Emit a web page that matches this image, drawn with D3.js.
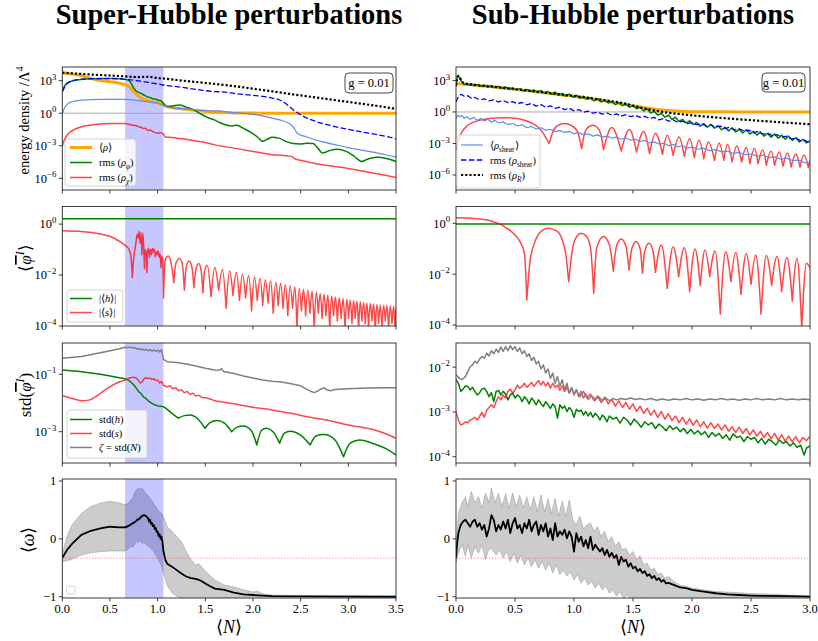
<!DOCTYPE html>
<html>
<head>
<meta charset="utf-8">
<script src="https://cdn.jsdelivr.net/npm/d3@7"></script>
<style>
  body { margin: 0; background: #fff; }
  svg { display: block; }
  text { font-family: "Liberation Serif", "Times New Roman", serif; fill: #000; }
</style>
</head>
<body>
<script>
// ---------------------------------------------------------------------------
// Data. Log-scale series are stored as [N, log10(value)] pairs,
// linear series as [N, value] pairs.
// ---------------------------------------------------------------------------

// x ticks
const ticksSuper = [0, 0.5, 1.0, 1.5, 2.0, 2.5, 3.0, 3.5];
const ticksSub = [0, 0.5, 1.0, 1.5, 2.0, 2.5, 3.0];
// tachyonic window (super-Hubble run)
const tachyonicWindow = [0.658, 1.06];
const couplingLabel = "g = 0.01";
const unitDensity = 1;
const wRadiation = -1 / 3;

// --- energy densities, super-Hubble ---
const rhoMeanSuper = [[0,3.74],[0.1,3.62],[0.2,3.46],[0.3,3.2],[0.4,3.02],[0.5,2.9],[0.6,2.76],[0.66,2.62],[0.7,2.45],[0.75,2.0],[0.8,1.55],[0.85,1.3],[0.9,1.16],[0.95,1.04],[1.0,0.97],[1.06,0.78],[1.1,0.62],[1.2,0.46],[1.3,0.36],[1.4,0.26],[1.5,0.17],[1.6,0.11],[1.7,0.06],[1.8,0.03],[2.0,0.01],[2.3,0],[3.5,0]];
const rmsPhiSuper = [[0,1.98],[0.03,2.6],[0.08,2.9],[0.15,3.06],[0.25,3.16],[0.4,3.2],[0.55,3.2],[0.66,3.12],[0.7,3.0],[0.72,2.8],[0.74,2.45],[0.77,2.1],[0.8,1.92],[0.82,1.85],[0.85,1.7],[0.87,1.62],[0.9,1.48],[0.92,1.45],[0.95,1.32],[0.98,1.3],[1.0,1.22],[1.02,1.18],[1.04,1.12],[1.06,0.92],[1.09,0.62],[1.15,0.66],[1.23,0.76],[1.3,0.56],[1.38,0.3],[1.45,-0.07],[1.52,-0.38],[1.6,-0.64],[1.65,-0.86],[1.72,-1.08],[1.78,-1.17],[1.83,-1.1],[1.9,-1.4],[1.97,-1.72],[2.05,-2.22],[2.1,-2.6],[2.15,-2.4],[2.2,-2.22],[2.28,-2.32],[2.35,-2.62],[2.42,-2.8],[2.49,-2.84],[2.56,-2.78],[2.63,-2.8],[2.68,-3.22],[2.73,-3.68],[2.8,-3.45],[2.89,-3.32],[2.97,-3.5],[3.04,-3.84],[3.1,-4.25],[3.14,-4.45],[3.2,-4.25],[3.3,-4.07],[3.4,-4.18],[3.5,-4.45]];
const rmsChiSuper = [[0,-3.03],[0.02,-2.5],[0.05,-2.02],[0.1,-1.62],[0.2,-1.25],[0.3,-1.09],[0.4,-1.0],[0.5,-0.96],[0.66,-0.94],[0.7,-1.02],[0.75,-1.12],[0.78,-1.15],[0.8,-1.25],[0.83,-1.3],[0.85,-1.42],[0.87,-1.38],[0.9,-1.6],[0.92,-1.55],[0.95,-1.7],[1.0,-1.85],[1.03,-1.8],[1.06,-1.92],[1.08,-2.2],[1.12,-2.22],[1.2,-2.3],[1.3,-2.4],[1.4,-2.56],[1.5,-2.7],[1.6,-2.92],[1.8,-3.22],[2.0,-3.52],[2.2,-3.82],[2.4,-3.98],[2.45,-4.25],[2.5,-4.33],[2.6,-4.55],[2.8,-4.85],[3.0,-5.1],[3.2,-5.42],[3.4,-5.75],[3.5,-5.92]];
const shearMeanSuper = [[0,0],[0.03,0.6],[0.06,0.9],[0.1,1.06],[0.2,1.2],[0.4,1.27],[0.66,1.27],[0.8,1.16],[0.9,1.05],[1.0,0.92],[1.06,0.72],[1.1,0.58],[1.2,0.46],[1.4,0.32],[1.6,0.2],[1.65,0.22],[1.7,0.14],[1.8,0.06],[2.0,-0.1],[2.1,-0.25],[2.2,-0.45],[2.28,-0.62],[2.38,-0.95],[2.42,-1.23],[2.47,-1.9],[2.55,-2.15],[2.7,-2.58],[2.9,-2.98],[3.0,-3.18],[3.2,-3.5],[3.4,-3.85],[3.5,-4.05]];
const shearRmsSuper = [[0,1.98],[0.03,2.5],[0.06,2.8],[0.1,2.97],[0.2,3.12],[0.3,3.18],[0.5,3.19],[0.66,3.12],[0.8,2.98],[0.9,2.85],[1.0,2.7],[1.06,2.6],[1.2,2.45],[1.4,2.2],[1.6,1.99],[1.68,1.97],[1.72,1.93],[1.8,1.83],[2.0,1.65],[2.1,1.55],[2.2,1.4],[2.28,1.22],[2.35,0.85],[2.42,0.32],[2.47,0.02],[2.55,-0.38],[2.65,-0.74],[2.8,-1.1],[3.0,-1.5],[3.2,-1.82],[3.4,-2.15],[3.5,-2.36]];
const rmsRadSuper = [[0,3.74],[0.2,3.62],[0.4,3.52],[0.6,3.43],[0.8,3.33],[0.9,3.36],[1.0,3.24],[1.06,3.2],[1.2,3.06],[1.4,2.88],[1.6,2.7],[1.8,2.5],[2.0,2.26],[2.2,2.02],[2.4,1.76],[2.6,1.52],[2.8,1.28],[3.0,1.04],[3.2,0.8],[3.4,0.54],[3.5,0.4]];

// --- energy densities, sub-Hubble ---
const rhoMeanSub = [[0,2.72],[0.1,2.63],[0.2,2.5],[0.3,2.41],[0.4,2.29],[0.5,2.16],[0.6,2.03],[0.7,1.9],[0.8,1.75],[0.9,1.62],[1.0,1.49],[1.1,1.33],[1.2,1.17],[1.3,0.98],[1.4,0.79],[1.5,0.6],[1.6,0.4],[1.7,0.24],[1.8,0.13],[1.9,0.06],[2.0,0.03],[2.2,0.01],[2.5,0],[3.0,0]];
const rmsPhiSub = [[0,2.4],[0.01,3.3],[0.02,3.5],[0.035,3.1],[0.05,2.85],[0.07,2.6],[0.09,2.72],[0.11,2.55],[0.13,2.68],[0.15,2.5],[0.18,2.6],[0.21,2.45],[0.24,2.55],[0.27,2.38],[0.3,2.5],[0.33,2.32],[0.36,2.42],[0.39,2.25],[0.42,2.38],[0.45,2.15],[0.48,2.3],[0.51,2.1],[0.54,2.22],[0.57,2.0],[0.6,2.15],[0.63,1.95],[0.66,2.1],[0.69,1.85],[0.72,2.05],[0.75,1.78],[0.78,1.95],[0.81,1.68],[0.84,1.9],[0.87,1.6],[0.9,1.75],[0.93,1.5],[0.96,1.7],[0.99,1.4],[1.02,1.6],[1.05,1.3],[1.08,1.5],[1.11,1.2],[1.14,1.38],[1.17,1.05],[1.2,1.25],[1.23,0.95],[1.26,1.12],[1.29,0.85],[1.32,1.0],[1.35,0.7],[1.38,0.88],[1.41,0.6],[1.44,0.75],[1.47,0.45],[1.5,0.6],[1.53,0.3],[1.56,0.45],[1.59,0.1],[1.62,0.28],[1.65,-0.1],[1.68,0.05],[1.71,-0.3],[1.74,-0.12],[1.77,-0.5],[1.8,-0.3],[1.83,-0.7],[1.86,-0.5],[1.89,-0.9],[1.92,-0.7],[1.95,-1.05],[1.98,-0.85],[2.01,-1.2],[2.04,-1.0],[2.07,-1.35],[2.1,-1.1],[2.13,-1.45],[2.16,-1.2],[2.19,-1.55],[2.22,-1.3],[2.25,-1.7],[2.28,-1.45],[2.31,-1.8],[2.34,-1.5],[2.37,-1.9],[2.4,-1.65],[2.43,-2.0],[2.46,-1.7],[2.49,-2.1],[2.52,-1.85],[2.55,-2.2],[2.58,-1.9],[2.61,-2.3],[2.64,-2.05],[2.67,-2.4],[2.7,-2.1],[2.73,-2.5],[2.76,-2.2],[2.79,-2.6],[2.82,-2.3],[2.85,-2.7],[2.88,-2.45],[2.91,-2.85],[2.94,-2.6],[2.97,-2.95],[3.0,-2.75]];
const rmsChiSub = [[0,-3.65],[0.02,-2.7],[0.05,-1.9],[0.1,-1.27],[0.2,-0.79],[0.3,-0.6],[0.4,-0.54],[0.5,-0.6],[0.6,-0.86],[0.66,-1.17],[0.72,-1.75],[0.79,-3.0],[0.82,-1.9],[0.86,-1.3],[0.92,-1.11],[0.98,-1.3],[1.03,-1.9],[1.065,-3.49],[1.09,-2.0],[1.12,-1.45],[1.16,-1.27],[1.2,-1.5],[1.23,-2.2],[1.25,-3.59],[1.32,-1.49],[1.4,-3.71],[1.47,-1.68],[1.53,-3.81],[1.59,-1.87],[1.64,-3.97],[1.69,-2.06],[1.75,-4.03],[1.79,-2.22],[1.84,-4.13],[1.89,-2.38],[1.935,-4.22],[1.98,-2.54],[2.02,-4.35],[2.06,-2.7],[2.1,-4.44],[2.14,-2.86],[2.19,-4.6],[2.23,-2.98],[2.27,-4.6],[2.3,-3.11],[2.34,-4.76],[2.38,-3.24],[2.42,-4.76],[2.46,-3.37],[2.49,-4.92],[2.53,-3.49],[2.56,-4.92],[2.6,-3.59],[2.63,-5.08],[2.67,-3.71],[2.7,-5.08],[2.74,-3.81],[2.77,-5.17],[2.81,-3.9],[2.84,-5.24],[2.88,-4.0],[2.915,-5.24],[2.95,-4.1],[2.986,-5.3],[3.0,-4.6]];
const shearMeanSub = [[0,-0.65],[0.015,-0.3],[0.03,-0.45],[0.05,-0.35],[0.07,-0.6],[0.09,-0.45],[0.12,-0.7],[0.15,-0.52],[0.18,-0.8],[0.21,-0.62],[0.24,-0.85],[0.27,-0.7],[0.3,-0.98],[0.33,-0.8],[0.36,-1.05],[0.4,-0.95],[0.44,-1.2],[0.48,-1.1],[0.52,-1.32],[0.56,-1.22],[0.6,-1.5],[0.64,-1.38],[0.68,-1.62],[0.72,-1.5],[0.76,-1.75],[0.8,-1.65],[0.84,-1.88],[0.88,-1.78],[0.92,-1.95],[0.96,-1.85],[1.0,-2.08],[1.04,-1.95],[1.08,-2.18],[1.12,-2.08],[1.16,-2.3],[1.2,-2.18],[1.24,-2.4],[1.28,-2.3],[1.32,-2.5],[1.36,-2.4],[1.4,-2.6],[1.44,-2.48],[1.48,-2.7],[1.52,-2.6],[1.56,-2.8],[1.6,-2.72],[1.64,-2.95],[1.68,-2.85],[1.72,-3.05],[1.76,-2.98],[1.8,-3.2],[1.84,-3.1],[1.88,-3.32],[1.92,-3.22],[1.96,-3.45],[2.0,-3.35],[2.05,-3.55],[2.1,-3.45],[2.15,-3.68],[2.2,-3.58],[2.25,-3.8],[2.3,-3.72],[2.35,-3.95],[2.4,-3.85],[2.45,-4.08],[2.5,-4.0],[2.55,-4.2],[2.6,-4.12],[2.65,-4.35],[2.7,-4.28],[2.75,-4.5],[2.8,-4.4],[2.85,-4.62],[2.9,-4.58],[2.95,-4.8],[3.0,-4.85]];
const shearRmsSub = [[0,0.95],[0.02,1.45],[0.045,1.68],[0.07,1.5],[0.1,1.55],[0.13,1.3],[0.16,1.38],[0.2,1.15],[0.24,1.25],[0.28,1.05],[0.32,1.15],[0.36,0.95],[0.4,1.08],[0.44,0.88],[0.48,0.98],[0.52,0.78],[0.56,0.9],[0.6,0.68],[0.64,0.8],[0.68,0.56],[0.72,0.7],[0.76,0.45],[0.8,0.58],[0.84,0.35],[0.88,0.45],[0.92,0.22],[0.96,0.35],[1.0,0.1],[1.04,0.22],[1.08,-0.02],[1.12,0.08],[1.16,-0.12],[1.2,-0.02],[1.24,-0.2],[1.28,-0.1],[1.32,-0.3],[1.36,-0.18],[1.4,-0.4],[1.44,-0.25],[1.48,-0.45],[1.52,-0.32],[1.56,-0.52],[1.6,-0.42],[1.64,-0.62],[1.68,-0.52],[1.72,-0.75],[1.76,-0.62],[1.8,-0.88],[1.84,-0.75],[1.88,-1.0],[1.92,-0.88],[1.96,-1.12],[2.0,-1.02],[2.04,-1.22],[2.08,-1.12],[2.12,-1.35],[2.16,-1.22],[2.2,-1.45],[2.24,-1.35],[2.28,-1.58],[2.32,-1.45],[2.36,-1.7],[2.4,-1.6],[2.44,-1.82],[2.48,-1.72],[2.52,-1.98],[2.56,-1.85],[2.6,-2.12],[2.64,-2.0],[2.68,-2.25],[2.72,-2.15],[2.76,-2.42],[2.8,-2.3],[2.84,-2.58],[2.88,-2.48],[2.92,-2.75],[2.96,-2.7],[3.0,-3.0]];
const rmsRadSub = [[0,2.5],[0.015,3.4],[0.03,3.3],[0.05,2.9],[0.08,2.7],[0.12,2.62],[0.2,2.52],[0.3,2.42],[0.4,2.3],[0.5,2.17],[0.6,2.05],[0.7,1.92],[0.8,1.78],[0.9,1.65],[1.0,1.52],[1.1,1.38],[1.2,1.22],[1.3,1.05],[1.4,0.88],[1.5,0.6],[1.6,0.32],[1.7,0.1],[1.8,-0.08],[1.9,-0.2],[2.0,-0.32],[2.2,-0.52],[2.4,-0.7],[2.6,-0.86],[2.8,-1.02],[3.0,-1.17]];

// --- field means ---
const hMeanSuper = [[0,0.21],[3.5,0.21]];
const sMeanSuper = [[0,-0.26],[0.2,-0.29],[0.4,-0.39],[0.5,-0.48],[0.6,-0.68],[0.64,-0.78],[0.68,-0.9],[0.7,-1.0],[0.72,-1.26],[0.735,-2.1],[0.75,-1.3],[0.77,-0.81],[0.785,-0.4],[0.795,-0.55],[0.805,-0.28],[0.815,-0.75],[0.825,-0.32],[0.835,-1.2],[0.845,-0.35],[0.855,-1.0],[0.862,-1.75],[0.87,-1.0],[0.88,-1.15],[0.888,-1.9],[0.895,-1.1],[0.905,-0.95],[0.915,-1.3],[0.925,-1.0],[0.935,-1.2],[0.945,-0.95],[0.955,-1.1],[0.965,-0.98],[0.975,-1.28],[0.985,-1.1],[0.995,-1.2],[1.005,-1.05],[1.015,-1.3],[1.025,-1.15],[1.035,-1.7],[1.045,-1.25],[1.055,-1.5],[1.062,-2.9],[1.075,-1.5],[1.09,-1.3],[1.11,-1.25],[1.14,-1.5],[1.17,-2.3],[1.19,-1.55],[1.23,-1.35],[1.26,-1.6],[1.28,-2.6],[1.3,-1.7],[1.33,-1.45],[1.36,-1.7],[1.38,-2.5],[1.4,-1.8],[1.43,-1.55],[1.455,-1.8],[1.475,-2.7],[1.49,-1.9],[1.52,-1.62],[1.56,-2.85],[1.6,-1.7],[1.64,-2.6],[1.68,-1.78],[1.718,-3.3],[1.755,-1.84],[1.79,-2.8],[1.825,-1.9],[1.858,-3.0],[1.89,-1.96],[1.922,-2.9],[1.955,-2.02],[1.985,-3.4],[2.015,-2.08],[2.045,-3.0],[2.075,-2.13],[2.102,-3.2],[2.13,-2.18],[2.158,-3.1],[2.185,-2.23],[2.212,-3.5],[2.24,-2.28],[2.265,-3.2],[2.29,-2.33],[2.315,-3.3],[2.34,-2.38],[2.365,-3.6],[2.39,-2.42],[2.415,-3.3],[2.44,-2.47],[2.462,-4.1],[2.485,-2.52],[2.508,-3.4],[2.53,-2.56],[2.552,-3.6],[2.575,-2.6],[2.598,-3.5],[2.62,-2.64],[2.642,-4.1],[2.665,-2.68],[2.685,-3.5],[2.705,-2.72],[2.725,-3.7],[2.745,-2.75],[2.765,-3.6],[2.785,-2.79],[2.805,-4.1],[2.825,-2.82],[2.845,-3.6],[2.865,-2.86],[2.885,-3.8],[2.905,-2.89],[2.925,-3.7],[2.945,-2.92],[2.965,-4.1],[2.985,-2.95],[3.002,-3.7],[3.02,-2.98],[3.038,-3.9],[3.055,-3.0],[3.072,-3.7],[3.09,-3.03],[3.108,-4.1],[3.125,-3.05],[3.142,-3.8],[3.16,-3.08],[3.178,-3.9],[3.195,-3.1],[3.212,-4.1],[3.23,-3.12],[3.248,-3.8],[3.265,-3.14],[3.282,-4.1],[3.3,-3.16],[3.318,-3.9],[3.335,-3.18],[3.352,-4.1],[3.37,-3.19],[3.388,-3.8],[3.405,-3.2],[3.422,-4.1],[3.44,-3.21],[3.458,-3.9],[3.475,-3.22],[3.49,-4.1],[3.5,-3.3]];
const hMeanSub = [[0,-0.03],[3.0,-0.03]];
const sMeanSub = [[0,0.22],[0.1,0.21],[0.2,0.17],[0.3,0.09],[0.35,0.0],[0.4,-0.1],[0.45,-0.26],[0.5,-0.46],[0.55,-0.79],[0.58,-1.18],[0.6,-3.02],[0.627,-1.5],[0.67,-0.72],[0.726,-0.3],[0.78,-0.2],[0.853,-0.3],[0.895,-0.59],[0.932,-1.25],[0.955,-2.3],[0.98,-1.25],[1.007,-0.66],[1.06,-0.39],[1.107,-0.52],[1.14,-0.98],[1.167,-2.76],[1.192,-0.98],[1.25,-0.52],[1.3,-0.85],[1.333,-1.88],[1.36,-0.9],[1.4,-0.62],[1.44,-0.9],[1.466,-1.84],[1.49,-1.0],[1.525,-0.72],[1.56,-1.0],[1.58,-1.97],[1.6,-1.1],[1.635,-0.79],[1.67,-1.1],[1.69,-1.93],[1.74,-0.85],[1.79,-2.56],[1.84,-0.92],[1.887,-2.1],[1.935,-0.96],[1.98,-2.69],[2.025,-1.01],[2.07,-2.45],[2.11,-1.05],[2.15,-2.1],[2.195,-1.09],[2.24,-3.58],[2.285,-1.12],[2.33,-2.3],[2.37,-1.15],[2.415,-2.8],[2.46,-1.19],[2.5,-2.4],[2.54,-1.25],[2.585,-3.58],[2.63,-1.27],[2.675,-2.45],[2.72,-1.31],[2.76,-2.69],[2.805,-1.35],[2.85,-3.06],[2.89,-1.38],[2.93,-4.13],[2.97,-1.57],[3.0,-1.75]];

// --- field standard deviations ---
const stdHSuper = [[0,-0.85],[0.2,-0.91],[0.4,-1.0],[0.6,-1.12],[0.66,-1.16],[0.7,-1.22],[0.75,-1.37],[0.78,-1.5],[0.8,-1.6],[0.82,-1.65],[0.85,-1.78],[0.88,-1.85],[0.9,-1.92],[0.95,-2.03],[1.0,-2.1],[1.06,-2.13],[1.1,-2.22],[1.15,-2.36],[1.217,-2.53],[1.28,-2.44],[1.34,-2.42],[1.42,-2.55],[1.497,-2.88],[1.55,-2.68],[1.62,-2.61],[1.7,-2.7],[1.776,-3.0],[1.83,-2.85],[1.9,-2.8],[1.98,-2.95],[2.04,-3.46],[2.09,-2.95],[2.14,-2.88],[2.21,-3.0],[2.28,-3.4],[2.33,-3.05],[2.39,-2.98],[2.5,-3.12],[2.6,-3.46],[2.66,-3.15],[2.74,-3.1],[2.85,-3.25],[2.95,-3.87],[3.02,-3.4],[3.12,-3.29],[3.25,-3.4],[3.4,-3.6],[3.5,-3.81]];
const stdSSuper = [[0,-1.75],[0.1,-1.84],[0.2,-1.92],[0.28,-1.9],[0.35,-1.78],[0.4,-1.66],[0.5,-1.43],[0.6,-1.26],[0.66,-1.2],[0.7,-1.14],[0.74,-1.1],[0.77,-1.12],[0.8,-1.22],[0.82,-1.3],[0.84,-1.25],[0.86,-1.15],[0.88,-1.12],[0.9,-1.15],[0.92,-1.13],[0.94,-1.18],[0.96,-1.15],[0.98,-1.22],[1.0,-1.2],[1.02,-1.3],[1.04,-1.25],[1.06,-1.38],[1.1,-1.43],[1.13,-1.4],[1.16,-1.5],[1.19,-1.47],[1.22,-1.57],[1.25,-1.54],[1.28,-1.64],[1.31,-1.6],[1.34,-1.7],[1.37,-1.66],[1.4,-1.76],[1.43,-1.73],[1.46,-1.8],[1.5,-1.82],[1.55,-1.86],[1.6,-1.92],[1.7,-1.97],[1.8,-2.03],[2.0,-2.15],[2.2,-2.24],[2.4,-2.36],[2.6,-2.5],[2.8,-2.61],[3.0,-2.77],[3.2,-2.88],[3.4,-3.08],[3.5,-3.23]];
const zetaSuper = [[0,-0.44],[0.2,-0.38],[0.4,-0.25],[0.5,-0.18],[0.6,-0.11],[0.66,-0.06],[0.7,-0.07],[0.72,-0.05],[0.74,-0.09],[0.76,-0.07],[0.78,-0.12],[0.8,-0.1],[0.82,-0.15],[0.84,-0.12],[0.86,-0.17],[0.88,-0.13],[0.9,-0.18],[0.92,-0.14],[0.94,-0.19],[0.96,-0.15],[0.98,-0.2],[1.0,-0.16],[1.02,-0.22],[1.04,-0.15],[1.05,-0.3],[1.06,-0.48],[1.1,-0.56],[1.2,-0.59],[1.3,-0.64],[1.4,-0.71],[1.5,-0.79],[1.6,-0.85],[1.65,-0.86],[1.67,-0.8],[1.69,-0.9],[1.8,-0.97],[1.9,-1.06],[2.0,-1.13],[2.1,-1.2],[2.2,-1.24],[2.3,-1.27],[2.4,-1.33],[2.5,-1.4],[2.55,-1.5],[2.6,-1.58],[2.64,-1.64],[2.68,-1.58],[2.72,-1.5],[2.75,-1.48],[2.78,-1.55],[2.82,-1.57],[2.86,-1.53],[2.9,-1.52],[3.0,-1.5],[3.2,-1.48],[3.4,-1.47],[3.5,-1.47]];

const stdHSub = [[0,-2.28],[0.02,-2.36],[0.04,-2.54],[0.06,-2.49],[0.08,-2.42],[0.1,-2.43],[0.12,-2.51],[0.14,-2.45],[0.16,-2.54],[0.18,-2.62],[0.2,-2.57],[0.22,-2.49],[0.24,-2.47],[0.26,-2.54],[0.28,-2.66],[0.3,-2.57],[0.32,-2.77],[0.34,-2.54],[0.36,-2.52],[0.38,-2.62],[0.4,-2.54],[0.42,-2.6],[0.44,-2.73],[0.46,-2.62],[0.48,-2.58],[0.5,-2.69],[0.52,-2.62],[0.54,-2.66],[0.56,-2.77],[0.58,-2.66],[0.6,-2.72],[0.62,-2.82],[0.64,-2.69],[0.66,-2.75],[0.68,-2.84],[0.7,-2.73],[0.72,-2.81],[0.74,-2.88],[0.76,-2.77],[0.78,-2.84],[0.8,-2.92],[0.82,-2.82],[0.84,-2.88],[0.86,-3.14],[0.88,-2.84],[0.9,-2.92],[0.92,-2.87],[0.94,-2.99],[0.96,-2.9],[0.98,-2.96],[1.0,-3.12],[1.02,-2.94],[1.04,-2.99],[1.06,-2.96],[1.08,-3.07],[1.1,-2.99],[1.12,-3.09],[1.14,-3.01],[1.16,-3.12],[1.18,-3.03],[1.2,-3.09],[1.22,-3.18],[1.24,-3.07],[1.26,-3.12],[1.28,-3.22],[1.3,-3.09],[1.33,-3.16],[1.36,-3.12],[1.39,-3.25],[1.42,-3.12],[1.45,-3.18],[1.48,-3.29],[1.51,-3.16],[1.54,-3.24],[1.57,-3.34],[1.6,-3.22],[1.63,-3.29],[1.66,-3.24],[1.69,-3.37],[1.72,-3.27],[1.75,-3.33],[1.78,-3.42],[1.81,-3.31],[1.84,-3.39],[1.87,-3.34],[1.9,-3.44],[1.93,-3.37],[1.96,-3.48],[1.99,-3.39],[2.02,-3.49],[2.05,-3.42],[2.08,-3.51],[2.11,-3.44],[2.14,-3.57],[2.17,-3.46],[2.2,-3.54],[2.23,-3.48],[2.26,-3.59],[2.29,-3.51],[2.32,-3.63],[2.35,-3.49],[2.38,-3.57],[2.41,-3.54],[2.44,-3.66],[2.47,-3.55],[2.5,-3.61],[2.53,-3.57],[2.56,-3.69],[2.59,-3.59],[2.62,-3.72],[2.65,-3.61],[2.68,-3.66],[2.71,-3.74],[2.74,-3.63],[2.77,-3.7],[2.8,-3.66],[2.83,-3.76],[2.86,-3.69],[2.89,-3.79],[2.92,-3.74],[2.95,-3.96],[2.97,-3.81],[3.0,-3.76]];
const stdSSub = [[0,-2.99],[0.02,-3.18],[0.04,-3.29],[0.06,-3.27],[0.08,-3.22],[0.1,-3.24],[0.12,-3.18],[0.14,-3.16],[0.16,-3.12],[0.18,-3.18],[0.2,-3.1],[0.22,-3.01],[0.24,-3.12],[0.26,-2.96],[0.28,-2.9],[0.3,-2.84],[0.32,-2.9],[0.34,-2.77],[0.36,-2.66],[0.38,-2.73],[0.4,-2.62],[0.42,-2.69],[0.44,-2.54],[0.46,-2.49],[0.48,-2.58],[0.5,-2.51],[0.52,-2.4],[0.54,-2.47],[0.56,-2.43],[0.58,-2.36],[0.6,-2.45],[0.62,-2.4],[0.64,-2.34],[0.66,-2.43],[0.68,-2.36],[0.7,-2.3],[0.72,-2.4],[0.74,-2.32],[0.76,-2.42],[0.78,-2.34],[0.8,-2.47],[0.82,-2.36],[0.84,-2.45],[0.86,-2.4],[0.88,-2.52],[0.9,-2.42],[0.92,-2.54],[0.94,-2.45],[0.96,-2.58],[0.98,-2.47],[1.0,-2.6],[1.02,-2.51],[1.05,-2.66],[1.08,-2.54],[1.11,-2.69],[1.14,-2.6],[1.17,-2.75],[1.2,-2.64],[1.23,-2.79],[1.26,-2.67],[1.29,-2.82],[1.32,-2.72],[1.35,-2.87],[1.38,-2.75],[1.41,-2.9],[1.44,-2.79],[1.47,-2.94],[1.5,-2.82],[1.53,-2.99],[1.56,-2.87],[1.59,-3.03],[1.62,-2.92],[1.65,-3.07],[1.68,-2.96],[1.71,-3.12],[1.74,-2.99],[1.77,-3.16],[1.8,-3.04],[1.83,-3.19],[1.86,-3.09],[1.89,-3.24],[1.92,-3.12],[1.95,-3.27],[1.98,-3.15],[2.01,-3.3],[2.04,-3.18],[2.07,-3.33],[2.1,-3.22],[2.13,-3.36],[2.16,-3.24],[2.19,-3.37],[2.22,-3.27],[2.25,-3.4],[2.28,-3.29],[2.31,-3.43],[2.34,-3.33],[2.37,-3.46],[2.4,-3.34],[2.43,-3.48],[2.46,-3.37],[2.49,-3.51],[2.52,-3.4],[2.55,-3.54],[2.58,-3.43],[2.61,-3.57],[2.64,-3.46],[2.67,-3.6],[2.7,-3.48],[2.73,-3.63],[2.76,-3.51],[2.79,-3.65],[2.82,-3.54],[2.85,-3.67],[2.88,-3.55],[2.91,-3.69],[2.94,-3.57],[2.97,-3.64],[3.0,-3.54]];
const zetaSub = [[0,-2.17],[0.03,-2.25],[0.05,-2.28],[0.08,-2.21],[0.1,-2.1],[0.12,-1.99],[0.14,-1.95],[0.16,-1.87],[0.18,-1.91],[0.2,-1.82],[0.22,-1.76],[0.24,-1.8],[0.26,-1.69],[0.28,-1.75],[0.3,-1.63],[0.32,-1.7],[0.34,-1.6],[0.36,-1.67],[0.38,-1.55],[0.4,-1.65],[0.42,-1.54],[0.44,-1.63],[0.46,-1.52],[0.48,-1.61],[0.5,-1.54],[0.52,-1.65],[0.54,-1.57],[0.56,-1.7],[0.58,-1.63],[0.6,-1.76],[0.62,-1.7],[0.64,-1.85],[0.66,-1.78],[0.68,-1.93],[0.7,-1.87],[0.72,-2.04],[0.74,-1.95],[0.76,-2.13],[0.78,-2.04],[0.8,-2.25],[0.82,-2.13],[0.84,-2.36],[0.86,-2.21],[0.88,-2.43],[0.9,-2.28],[0.92,-2.51],[0.94,-2.36],[0.96,-2.57],[0.98,-2.45],[1.0,-2.62],[1.02,-2.5],[1.04,-2.66],[1.06,-2.54],[1.08,-2.69],[1.1,-2.6],[1.12,-2.72],[1.15,-2.64],[1.18,-2.73],[1.21,-2.66],[1.24,-2.75],[1.27,-2.69],[1.3,-2.75],[1.33,-2.7],[1.36,-2.73],[1.4,-2.7],[1.44,-2.72],[1.48,-2.69],[1.52,-2.72],[1.56,-2.7],[1.6,-2.73],[1.65,-2.7],[1.7,-2.74],[1.75,-2.71],[1.8,-2.74],[1.85,-2.71],[1.9,-2.73],[1.95,-2.7],[2.0,-2.73],[2.05,-2.71],[2.1,-2.74],[2.15,-2.71],[2.2,-2.73],[2.25,-2.7],[2.3,-2.73],[2.35,-2.71],[2.4,-2.74],[2.45,-2.71],[2.5,-2.73],[2.55,-2.7],[2.6,-2.73],[2.65,-2.71],[2.7,-2.73],[2.75,-2.7],[2.8,-2.73],[2.85,-2.71],[2.9,-2.73],[2.95,-2.71],[3.0,-2.73]];

// --- equation of state: mean and one-sigma band ---
const wMeanSuper = [[0,-0.33],[0.05,-0.19],[0.1,-0.09],[0.15,-0.01],[0.2,0.07],[0.3,0.14],[0.4,0.18],[0.5,0.21],[0.6,0.2],[0.66,0.2],[0.7,0.23],[0.74,0.27],[0.77,0.3],[0.79,0.34],[0.8,0.33],[0.82,0.37],[0.84,0.4],[0.86,0.41],[0.88,0.39],[0.9,0.36],[0.91,0.3],[0.92,0.33],[0.93,0.26],[0.94,0.28],[0.95,0.22],[0.96,0.24],[0.97,0.17],[0.98,0.19],[0.99,0.12],[1.0,0.13],[1.01,0.05],[1.02,0.08],[1.03,0.0],[1.04,0.04],[1.05,-0.05],[1.06,-0.2],[1.08,-0.36],[1.1,-0.43],[1.15,-0.48],[1.2,-0.54],[1.25,-0.6],[1.3,-0.65],[1.35,-0.68],[1.4,-0.69],[1.45,-0.72],[1.5,-0.77],[1.55,-0.82],[1.6,-0.86],[1.7,-0.88],[1.8,-0.93],[1.9,-0.96],[2.0,-0.97],[2.2,-0.99],[2.5,-0.995],[3.5,-1.0]];
const wUpperSuper = [[0,-0.25],[0.05,0.04],[0.1,0.24],[0.2,0.44],[0.3,0.56],[0.4,0.62],[0.5,0.65],[0.6,0.62],[0.66,0.59],[0.7,0.62],[0.72,0.68],[0.74,0.7],[0.76,0.8],[0.78,0.85],[0.8,0.88],[0.82,0.86],[0.84,0.87],[0.86,0.82],[0.88,0.78],[0.9,0.74],[0.92,0.7],[0.94,0.66],[0.96,0.6],[0.98,0.55],[1.0,0.5],[1.02,0.46],[1.04,0.44],[1.06,0.39],[1.08,0.3],[1.1,0.21],[1.15,0.13],[1.2,0.04],[1.25,-0.05],[1.3,-0.22],[1.35,-0.36],[1.4,-0.45],[1.43,-0.43],[1.45,-0.46],[1.5,-0.56],[1.6,-0.71],[1.7,-0.8],[1.8,-0.83],[1.9,-0.88],[2.0,-0.92],[2.05,-0.9],[2.1,-0.95],[2.2,-0.97],[2.5,-0.985],[3.5,-0.99]];
const wLowerSuper = [[0,-0.39],[0.05,-0.38],[0.1,-0.35],[0.2,-0.28],[0.3,-0.24],[0.4,-0.22],[0.5,-0.21],[0.66,-0.21],[0.7,-0.16],[0.72,-0.12],[0.74,-0.15],[0.76,-0.08],[0.78,-0.05],[0.8,-0.06],[0.82,-0.02],[0.84,-0.08],[0.86,-0.05],[0.88,-0.1],[0.9,-0.12],[0.92,-0.15],[0.94,-0.18],[0.96,-0.22],[0.98,-0.28],[1.0,-0.33],[1.02,-0.4],[1.04,-0.45],[1.06,-0.59],[1.1,-0.8],[1.15,-0.93],[1.2,-0.99],[1.25,-1.02],[1.3,-1.04],[1.6,-1.04],[1.7,-1.02],[1.8,-1.01],[2.0,-1.005],[3.5,-1.005]];
const wMeanSub = [[0,-0.33],[0.01,-0.07],[0.02,0.1],[0.04,0.24],[0.06,0.3],[0.08,0.33],[0.1,0.27],[0.12,0.21],[0.14,0.3],[0.16,0.33],[0.18,0.21],[0.2,0.27],[0.22,0.16],[0.24,0.24],[0.26,0.04],[0.28,0.18],[0.3,0.41],[0.32,0.33],[0.34,0.13],[0.36,0.24],[0.38,0.16],[0.4,0.3],[0.42,0.18],[0.44,0.33],[0.46,0.1],[0.48,0.27],[0.5,0.36],[0.52,0.18],[0.54,0.24],[0.56,0.1],[0.58,0.27],[0.6,0.18],[0.62,0.33],[0.64,0.13],[0.66,0.24],[0.68,0.3],[0.7,0.07],[0.72,0.24],[0.74,0.13],[0.76,0.27],[0.78,0.04],[0.8,0.18],[0.82,-0.02],[0.84,0.27],[0.86,0.04],[0.88,0.13],[0.9,0.07],[0.92,0.16],[0.94,0.01],[0.96,0.13],[0.98,0.04],[1.0,-0.22],[1.02,0.1],[1.04,-0.05],[1.06,0.04],[1.08,-0.13],[1.1,-0.02],[1.12,-0.16],[1.14,0.04],[1.16,-0.19],[1.18,-0.1],[1.2,-0.16],[1.22,-0.22],[1.24,-0.16],[1.26,-0.28],[1.28,-0.19],[1.3,-0.31],[1.32,-0.24],[1.34,-0.33],[1.36,-0.28],[1.38,-0.45],[1.4,-0.31],[1.42,-0.39],[1.44,-0.36],[1.46,-0.48],[1.48,-0.42],[1.5,-0.51],[1.52,-0.48],[1.54,-0.56],[1.56,-0.52],[1.58,-0.59],[1.6,-0.56],[1.62,-0.64],[1.64,-0.61],[1.66,-0.68],[1.68,-0.64],[1.7,-0.71],[1.72,-0.68],[1.74,-0.74],[1.76,-0.71],[1.78,-0.77],[1.8,-0.76],[1.85,-0.8],[1.9,-0.84],[1.95,-0.85],[2.0,-0.88],[2.1,-0.91],[2.2,-0.94],[2.3,-0.96],[2.4,-0.97],[2.5,-0.98],[2.6,-0.986],[2.8,-0.99],[3.0,-0.997]];
const wUpperSub = [[0,-0.28],[0.02,0.44],[0.05,0.62],[0.08,0.73],[0.1,0.56],[0.13,0.82],[0.16,0.62],[0.19,0.73],[0.22,0.53],[0.25,0.79],[0.28,0.62],[0.3,0.88],[0.33,0.62],[0.36,0.79],[0.39,0.56],[0.42,0.78],[0.45,0.53],[0.48,0.79],[0.51,0.56],[0.54,0.76],[0.57,0.53],[0.6,0.73],[0.63,0.5],[0.66,0.73],[0.69,0.47],[0.72,0.76],[0.75,0.47],[0.78,0.7],[0.81,0.44],[0.84,0.7],[0.87,0.39],[0.9,0.65],[0.93,0.39],[0.96,0.67],[0.99,0.33],[1.02,0.24],[1.05,0.39],[1.08,0.18],[1.11,0.24],[1.14,0.27],[1.17,0.13],[1.2,0.21],[1.23,0.04],[1.26,0.13],[1.29,-0.05],[1.32,0.04],[1.35,-0.13],[1.38,-0.05],[1.41,-0.19],[1.44,-0.16],[1.47,-0.28],[1.5,-0.22],[1.53,-0.36],[1.56,-0.29],[1.59,-0.45],[1.62,-0.42],[1.65,-0.54],[1.68,-0.51],[1.71,-0.62],[1.74,-0.59],[1.77,-0.68],[1.8,-0.65],[1.85,-0.74],[1.9,-0.8],[1.95,-0.82],[2.0,-0.85],[2.1,-0.88],[2.2,-0.91],[2.3,-0.92],[2.4,-0.93],[2.5,-0.95],[2.6,-0.95],[2.8,-0.97],[3.0,-0.986]];
const wLowerSub = [[0,-0.42],[0.02,-0.25],[0.05,-0.1],[0.08,-0.3],[0.1,-0.1],[0.13,-0.33],[0.16,-0.13],[0.19,-0.25],[0.22,-0.1],[0.25,-0.36],[0.28,-0.16],[0.31,-0.19],[0.34,-0.28],[0.37,-0.19],[0.4,-0.33],[0.43,-0.22],[0.46,-0.39],[0.49,-0.25],[0.52,-0.42],[0.55,-0.28],[0.58,-0.45],[0.61,-0.33],[0.64,-0.48],[0.67,-0.36],[0.7,-0.51],[0.73,-0.39],[0.76,-0.54],[0.79,-0.42],[0.82,-0.59],[0.85,-0.45],[0.88,-0.62],[0.91,-0.54],[0.94,-0.64],[0.97,-0.57],[1.0,-0.71],[1.03,-0.62],[1.06,-0.77],[1.09,-0.68],[1.12,-0.8],[1.15,-0.74],[1.18,-0.85],[1.21,-0.77],[1.24,-0.88],[1.27,-0.82],[1.3,-0.94],[1.33,-0.88],[1.36,-0.99],[1.39,-0.91],[1.42,-1.03],[1.45,-0.97],[1.48,-1.04],[1.51,-1.0],[1.54,-1.05],[1.57,-1.01],[1.6,-1.05],[1.65,-1.04],[1.7,-1.07],[1.8,-1.05],[1.9,-1.04],[2.0,-1.04],[2.1,-1.03],[2.2,-1.02],[2.3,-1.015],[2.4,-1.01],[2.6,-1.005],[3.0,-1.003]];

// ---------------------------------------------------------------------------
// Layout and scales
// ---------------------------------------------------------------------------
const W = 818, H = 641;
const svg = d3.select("body").append("svg").attr("width", W).attr("height", H);

const xSuper = d3.scaleLinear().domain([0, 3.5]).range([62.3, 396]);
const xSub = d3.scaleLinear().domain([0, 3.0]).range([456, 810]);
const rows = [[67, 190], [206.5, 326], [343, 463], [479, 598]];

const yE_super = d3.scaleLog().domain([Math.pow(10, -7.08), Math.pow(10, 4.26)]).range([rows[0][1], rows[0][0]]);
const yE_sub = d3.scaleLog().domain([Math.pow(10, -7.43), Math.pow(10, 4.28)]).range([rows[0][1], rows[0][0]]);
const yM_super = d3.scaleLog().domain([1e-4, Math.pow(10, 0.69)]).range([rows[1][1], rows[1][0]]);
const yM_sub = d3.scaleLog().domain([Math.pow(10, -4.04), Math.pow(10, 0.66)]).range([rows[1][1], rows[1][0]]);
const yS_super = d3.scaleLog().domain([Math.pow(10, -4.09), Math.pow(10, 0.09)]).range([rows[2][1], rows[2][0]]);
const yS_sub = d3.scaleLog().domain([Math.pow(10, -4.14), Math.pow(10, -1.46)]).range([rows[2][1], rows[2][0]]);
const yW_super = d3.scaleLinear().domain([-1.022, 1.035]).range([rows[3][1], rows[3][0]]);
const yW_sub = d3.scaleLinear().domain([-1.022, 1.035]).range([rows[3][1], rows[3][0]]);

// line styles
const S = {
  orange:   { stroke: "#ffa500", width: 3 },
  green:    { stroke: "#008000", width: 1.5 },
  red:      { stroke: "#ff0000", width: 1.5, opacity: 0.72 },
  shear:    { stroke: "#5f8ced", width: 1.2 },
  shearRms: { stroke: "#0000ff", width: 1.3, dash: "5.5,2.4" },
  rad:      { stroke: "#000000", width: 2.2, dash: "2.2,2" },
  gray:     { stroke: "#808080", width: 1.5 },
  black:    { stroke: "#000000", width: 1.8 },
  unit:     { stroke: "#a0a0a0", width: 0.9 },
  wrad:     { stroke: "#ff5555", width: 1, opacity: 0.7, dash: "1.2,1.8" }
};

// ---------------------------------------------------------------------------
// Helpers
// ---------------------------------------------------------------------------
let clipCount = 0;
function makePanel(xs, ys, row, isLog) {
  const [top, bottom] = rows[row];
  const [l, r] = xs.range();
  const id = "clip" + (clipCount++);
  svg.append("clipPath").attr("id", id)
    .append("rect").attr("x", l).attr("y", top).attr("width", r - l).attr("height", bottom - top);
  const plot = svg.append("g").attr("clip-path", `url(#${id})`);
  const over = svg.append("g");
  return { plot, over, xs, ys, l, r, top, bottom, isLog };
}

function applyStyle(sel, st) {
  sel.attr("fill", "none").attr("stroke", st.stroke).attr("stroke-width", st.width)
    .attr("stroke-linejoin", "round");
  if (st.opacity !== undefined) sel.attr("stroke-opacity", st.opacity);
  if (st.dash) sel.attr("stroke-dasharray", st.dash);
  return sel;
}

function yVal(p, v) { return p.ys(p.isLog ? Math.pow(10, v) : v); }

// mode: "lin" straight segments, "mono" smooth, "cusp" smooth arcs joined at sharp minima
function seriesPath(p, data, mode) {
  const line = d3.line().x(d => p.xs(d[0])).y(d => yVal(p, d[1]));
  if (mode === "lin") return line.curve(d3.curveLinear)(data);
  line.curve(d3.curveMonotoneX);
  if (mode === "mono") return line(data);
  const segs = [];
  let cur = [data[0]];
  for (let i = 1; i < data.length; i++) {
    cur.push(data[i]);
    if (i < data.length - 1 && data[i][1] < data[i - 1][1] && data[i][1] < data[i + 1][1]) {
      segs.push(cur);
      cur = [data[i]];
    }
  }
  segs.push(cur);
  return segs.map(s => line(s)).join("");
}

function drawSeries(p, data, st, mode) {
  const path = p.plot.append("path").attr("d", seriesPath(p, data, mode || "mono"));
  applyStyle(path, st).attr("stroke-linecap", mode === "cusp" ? "round" : "butt");
}

function drawHLine(p, v, st) {
  const yy = yVal(p, p.isLog ? Math.log10(v) : v);
  const ln = p.plot.append("line").attr("x1", p.l).attr("x2", p.r).attr("y1", yy).attr("y2", yy);
  applyStyle(ln, st);
}

function drawBand(p, range) {
  p.plot.append("rect").attr("x", p.xs(range[0])).attr("y", p.top)
    .attr("width", p.xs(range[1]) - p.xs(range[0])).attr("height", p.bottom - p.top)
    .attr("fill", "#0000ff").attr("fill-opacity", 0.22);
}

function drawSpread(p, upper, lower) {
  const poly = upper.concat(lower.slice().reverse());
  const line = d3.line().x(d => p.xs(d[0])).y(d => yVal(p, d[1]));
  p.plot.append("path").attr("d", line(poly) + "Z")
    .attr("fill", "#808080").attr("fill-opacity", 0.4)
    .attr("stroke", "#808080").attr("stroke-opacity", 0.4).attr("stroke-width", 1);
}

// rich text: parts = [{t, i (italic), sub, sup, bar}]
function rich(textSel, parts, size) {
  let shift = 0;
  parts.forEach(pt => {
    const ts = textSel.append("tspan").text(pt.t);
    const target = pt.sub ? size * 0.28 : pt.sup ? -size * 0.42 : 0;
    if (target !== shift) ts.attr("dy", target - shift);
    shift = target;
    if (pt.sub || pt.sup) ts.attr("font-size", size * 0.7);
    if (pt.i) ts.attr("font-style", "italic");
    if (pt.bar) ts.attr("text-decoration", "overline");
  });
  return textSel;
}

function frame(p, yTicks, xTicks, xLabels) {
  const o = p.over;
  o.append("rect").attr("x", p.l).attr("y", p.top).attr("width", p.r - p.l).attr("height", p.bottom - p.top)
    .attr("fill", "none").attr("stroke", "#262626").attr("stroke-width", 0.9);
  const fmt = d3.format(".1f");
  xTicks.forEach(t => {
    const x = p.xs(t);
    o.append("line").attr("x1", x).attr("x2", x).attr("y1", p.bottom).attr("y2", p.bottom + 3.5)
      .attr("stroke", "#262626").attr("stroke-width", 0.9);
    if (xLabels) {
      o.append("text").attr("x", x).attr("y", p.bottom + 14.5).attr("text-anchor", "middle")
        .attr("font-size", 12.5).text(fmt(t));
    }
  });
  yTicks.forEach(t => {
    const y = p.ys(t);
    o.append("line").attr("x1", p.l - 3.5).attr("x2", p.l).attr("y1", y).attr("y2", y)
      .attr("stroke", "#262626").attr("stroke-width", 0.9);
    const txt = o.append("text").attr("x", p.l - 6).attr("y", y + 4.4).attr("text-anchor", "end").attr("font-size", 12.5);
    if (p.isLog) {
      const e = Math.round(Math.log10(t));
      rich(txt, [{ t: "10" }, { t: (e < 0 ? "\u2212" : "") + Math.abs(e), sup: true }], 12.5);
    } else {
      txt.text(t < 0 ? "\u2212" + Math.abs(t) : String(t));
    }
  });
}

function legend(p, box, items, size) {
  const g = p.over.append("g");
  g.append("rect").attr("x", box[0]).attr("y", box[1]).attr("width", box[2]).attr("height", box[3])
    .attr("rx", 3).attr("fill", "#fff").attr("fill-opacity", 0.8).attr("stroke", "#d0d0d0").attr("stroke-width", 0.9);
  items.forEach(it => {
    const ln = g.append("line").attr("x1", it.x).attr("x2", it.x + 22).attr("y1", it.y).attr("y2", it.y);
    applyStyle(ln, it.style);
    const tx = g.append("text").attr("x", it.x + 29).attr("y", it.y + 3.6).attr("font-size", size);
    rich(tx, it.parts, size);
  });
}

function tagBox(p, box, label) {
  p.over.append("rect").attr("x", box[0]).attr("y", box[1]).attr("width", box[2]).attr("height", box[3])
    .attr("rx", 4).attr("fill", "#fff").attr("stroke", "#333").attr("stroke-width", 0.9);
  p.over.append("text").attr("x", box[0] + box[2] / 2).attr("y", box[1] + box[3] / 2 + 4.3)
    .attr("text-anchor", "middle").attr("font-size", 12.5).text(label);
}

function yLabel(x, y, parts, size) {
  const t = svg.append("text").attr("transform", `translate(${x},${y}) rotate(-90)`)
    .attr("text-anchor", "middle").attr("font-size", size);
  rich(t, parts, size);
}

// ---------------------------------------------------------------------------
// Titles
// ---------------------------------------------------------------------------
svg.append("text").attr("x", 229).attr("y", 24).attr("text-anchor", "middle")
  .attr("font-size", 28.5).attr("font-weight", "bold").text("Super-Hubble perturbations");
svg.append("text").attr("x", 633).attr("y", 24).attr("text-anchor", "middle")
  .attr("font-size", 28.5).attr("font-weight", "bold").text("Sub-Hubble perturbations");

// ---------------------------------------------------------------------------
// Row 1: energy densities
// ---------------------------------------------------------------------------
const eTicks = [1e3, 1, 1e-3, 1e-6];
{
  const p = makePanel(xSuper, yE_super, 0, true);
  drawBand(p, tachyonicWindow);
  drawHLine(p, unitDensity, S.unit);
  drawSeries(p, rhoMeanSuper, S.orange, "mono");
  drawSeries(p, rmsPhiSuper, S.green, "mono");
  drawSeries(p, rmsChiSuper, S.red, "mono");
  drawSeries(p, shearMeanSuper, S.shear, "mono");
  drawSeries(p, shearRmsSuper, S.shearRms, "mono");
  drawSeries(p, rmsRadSuper, S.rad, "mono");
  frame(p, eTicks, ticksSuper, false);
  legend(p, [65, 139, 71, 47], [
    { x: 70, y: 147.5, style: S.orange, parts: [{ t: "\u27E8" }, { t: "\u03C1", i: 1 }, { t: "\u27E9" }] },
    { x: 70, y: 162.5, style: S.green, parts: [{ t: "rms (" }, { t: "\u03C1", i: 1 }, { t: "\u03C6", i: 1, sub: 1 }, { t: ")" }] },
    { x: 70, y: 177.5, style: S.red, parts: [{ t: "rms (" }, { t: "\u03C1", i: 1 }, { t: "\u03C7", i: 1, sub: 1 }, { t: ")" }] }
  ], 10.5);
  tagBox(p, [345, 73, 48, 20], couplingLabel);
}
{
  const p = makePanel(xSub, yE_sub, 0, true);
  drawHLine(p, unitDensity, S.unit);
  drawSeries(p, rhoMeanSub, S.orange, "mono");
  drawSeries(p, rmsPhiSub, S.green, "lin");
  drawSeries(p, rmsChiSub, S.red, "cusp");
  drawSeries(p, shearMeanSub, S.shear, "lin");
  drawSeries(p, shearRmsSub, S.shearRms, "lin");
  drawSeries(p, rmsRadSub, S.rad, "mono");
  frame(p, eTicks, ticksSub, false);
  legend(p, [457, 135, 83, 53], [
    { x: 461, y: 145, style: S.shear, parts: [{ t: "\u27E8" }, { t: "\u03C1", i: 1 }, { t: "shear", sub: 1 }, { t: "\u27E9" }] },
    { x: 461, y: 160, style: S.shearRms, parts: [{ t: "rms (" }, { t: "\u03C1", i: 1 }, { t: "shear", sub: 1 }, { t: ")" }] },
    { x: 461, y: 175, style: S.rad, parts: [{ t: "rms (" }, { t: "\u03C1", i: 1 }, { t: "R", i: 1, sub: 1 }, { t: ")" }] }
  ], 10.5);
  tagBox(p, [762, 73, 43, 19], couplingLabel);
}
yLabel(29, 120.5, [{ t: "energy density /\u039B" }, { t: "4", sup: 1 }], 14.5);

// ---------------------------------------------------------------------------
// Row 2: field means
// ---------------------------------------------------------------------------
{
  const p = makePanel(xSuper, yM_super, 1, true);
  drawBand(p, tachyonicWindow);
  drawSeries(p, hMeanSuper, S.green, "lin");
  drawSeries(p, sMeanSuper, S.red, "cusp");
  frame(p, [1, 1e-2, 1e-4], ticksSuper, false);
  legend(p, [67, 290, 56, 32], [
    { x: 70, y: 298.5, style: S.green, parts: [{ t: "|\u27E8" }, { t: "h", i: 1 }, { t: "\u27E9|" }] },
    { x: 70, y: 312.5, style: S.red, parts: [{ t: "|\u27E8" }, { t: "s", i: 1 }, { t: "\u27E9|" }] }
  ], 10.5);
}
{
  const p = makePanel(xSub, yM_sub, 1, true);
  drawSeries(p, hMeanSub, S.green, "lin");
  drawSeries(p, sMeanSub, S.red, "cusp");
  frame(p, [1, 1e-2, 1e-4], ticksSub, false);
}
yLabel(31, 258, [{ t: "\u27E8" }, { t: "\u03C6", i: 1, bar: 1 }, { t: "I", i: 1, sup: 1 }, { t: "\u27E9" }], 17);

// ---------------------------------------------------------------------------
// Row 3: field standard deviations
// ---------------------------------------------------------------------------
{
  const p = makePanel(xSuper, yS_super, 2, true);
  drawBand(p, tachyonicWindow);
  drawSeries(p, stdHSuper, S.green, "cusp");
  drawSeries(p, stdSSuper, S.red, "mono");
  drawSeries(p, zetaSuper, S.gray, "lin");
  frame(p, [1e-1, 1e-3], ticksSuper, false);
  legend(p, [67, 410, 80, 48], [
    { x: 70, y: 419.5, style: S.green, parts: [{ t: "std(" }, { t: "h", i: 1 }, { t: ")" }] },
    { x: 70, y: 433.5, style: S.red, parts: [{ t: "std(" }, { t: "s", i: 1 }, { t: ")" }] },
    { x: 70, y: 447.5, style: S.gray, parts: [{ t: "\u03B6", i: 1 }, { t: " = std(" }, { t: "N", i: 1 }, { t: ")" }] }
  ], 10.5);
}
{
  const p = makePanel(xSub, yS_sub, 2, true);
  drawSeries(p, stdHSub, S.green, "lin");
  drawSeries(p, stdSSub, S.red, "lin");
  drawSeries(p, zetaSub, S.gray, "lin");
  frame(p, [1e-2, 1e-3, 1e-4], ticksSub, false);
}
yLabel(31, 395, [{ t: "std(" }, { t: "\u03C6", i: 1, bar: 1 }, { t: "I", i: 1, sup: 1 }, { t: ")" }], 17);

// ---------------------------------------------------------------------------
// Row 4: equation of state
// ---------------------------------------------------------------------------
{
  const p = makePanel(xSuper, yW_super, 3, false);
  drawSpread(p, wUpperSuper, wLowerSuper);
  drawBand(p, tachyonicWindow);
  drawSeries(p, wMeanSuper, S.black, "lin");
  drawHLine(p, wRadiation, S.wrad);
  frame(p, [1, 0, -1], ticksSuper, true);
  p.over.append("rect").attr("x", 66.5).attr("y", 586).attr("width", 8.5).attr("height", 8)
    .attr("rx", 1.5).attr("fill", "#fff").attr("stroke", "#d0d0d0").attr("stroke-width", 0.9);
}
{
  const p = makePanel(xSub, yW_sub, 3, false);
  drawSpread(p, wUpperSub, wLowerSub);
  drawSeries(p, wMeanSub, S.black, "lin");
  drawHLine(p, wRadiation, S.wrad);
  frame(p, [1, 0, -1], ticksSub, true);
}
yLabel(34, 540, [{ t: "\u27E8" }, { t: "\u03C9", i: 1 }, { t: "\u27E9" }], 18);

// x-axis labels
[229, 633].forEach(x => {
  const t = svg.append("text").attr("x", x).attr("y", 633).attr("text-anchor", "middle").attr("font-size", 18);
  rich(t, [{ t: "\u27E8" }, { t: "N", i: 1 }, { t: "\u27E9" }], 18);
});
</script>
</body>
</html>
